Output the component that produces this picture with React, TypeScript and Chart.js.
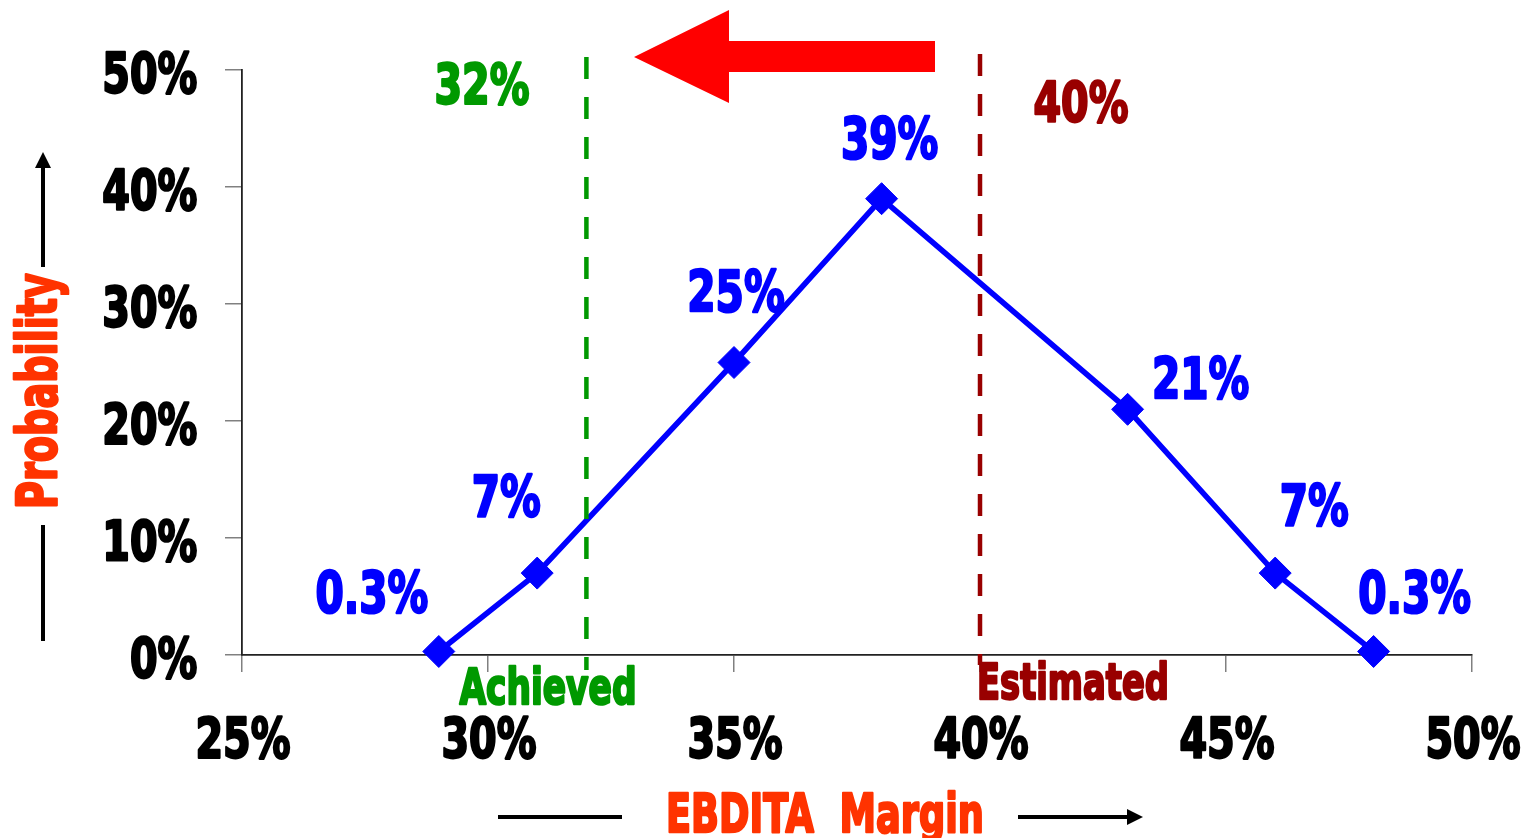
import React, { useEffect, useRef } from "react";
import { Chart, registerables } from "chart.js";

Chart.register(...registerables);

// EBDITA margin (%) and probability (%) for each scenario
const margins = [29, 31, 35, 38, 43, 46, 48];
const probabilities = [0.3, 7, 25, 39, 21, 7, 0.3];
const probabilityLabels = ["0.3%", "7%", "25%", "39%", "21%", "7%", "0.3%"];

// Reference margins shown as dashed verticals
const achievedMargin = 32;
const estimatedMargin = 40;

// Axis ranges and tick steps
const xRange = [25, 50];
const xStep = 5;
const yRange = [0, 50];
const yStep = 10;

// Where each value label sits relative to its marker (px)
const labelOffsets = [
  [-67, -59],
  [-31, -77],
  [2, -71],
  [8, -60],
  [73, -31],
  [39, -68],
  [41, -59],
];

const FAMILY = '"DejaVu Sans", "Liberation Sans", sans-serif';
const BLUE = "#0000FF";
const GREEN = "#009900";
const DARK_RED = "#990000";
const TITLE = "#FF3300";

type TextOpts = {
  width?: number;
  scaleX?: number;
  align?: CanvasTextAlign;
  rotate?: number;
};

function fontForCap(ctx: CanvasRenderingContext2D, capH: number) {
  ctx.font = `bold 100px ${FAMILY}`;
  const cap = ctx.measureText("H").actualBoundingBoxAscent || 72.9;
  const size = (100 * capH) / cap;
  ctx.font = `bold ${size}px ${FAMILY}`;
}

// Draws heavy condensed text whose cap box is centred vertically on cy
function capText(
  ctx: CanvasRenderingContext2D,
  text: string,
  x: number,
  cy: number,
  capH: number,
  color: string,
  opts: TextOpts = {}
) {
  ctx.save();
  fontForCap(ctx, capH - 2);
  const w = ctx.measureText(text).width;
  const sx = opts.width ? (opts.width - 2) / w : opts.scaleX ?? 1;
  ctx.translate(x, cy);
  if (opts.rotate) ctx.rotate(opts.rotate);
  ctx.scale(sx, 1);
  ctx.textAlign = opts.align ?? "center";
  ctx.textBaseline = "alphabetic";
  ctx.fillStyle = color;
  ctx.strokeStyle = color;
  ctx.lineWidth = 2.6;
  ctx.lineJoin = "round";
  const dx = opts.align === "right" ? -1 : 0;
  ctx.fillText(text, dx, capH / 2 - 1);
  ctx.strokeText(text, dx, capH / 2 - 1);
  ctx.restore();
}

function condensedScale(ctx: CanvasRenderingContext2D, capH: number) {
  ctx.save();
  fontForCap(ctx, capH - 2);
  const w = ctx.measureText("50%").width;
  ctx.restore();
  return 95 / w;
}

const overlayPlugin = {
  id: "marginOverlay",
  afterDraw(chart: any) {
    const ctx: CanvasRenderingContext2D = chart.ctx;
    const xs = chart.scales.x;
    const ys = chart.scales.y;
    const area = chart.chartArea;
    const cap = 42;
    const sx = condensedScale(ctx, cap);

    // Tick labels
    ys.ticks.forEach((t: any) => {
      const py = ys.getPixelForValue(t.value);
      capText(ctx, `${t.value}%`, 198, py + 2, cap, "#000", { scaleX: sx, align: "right" });
    });
    xs.ticks.forEach((t: any) => {
      const px = xs.getPixelForValue(t.value);
      capText(ctx, `${t.value}%`, px + 1, 737, cap, "#000", { scaleX: sx });
    });

    // Dashed reference lines
    const dashed = (v: number, color: string, top: number, bottom: number) => {
      const px = xs.getPixelForValue(v);
      ctx.save();
      ctx.strokeStyle = color;
      ctx.lineWidth = 4.5;
      ctx.setLineDash([22, 18]);
      ctx.beginPath();
      ctx.moveTo(px, top);
      ctx.lineTo(px, bottom);
      ctx.stroke();
      ctx.restore();
      return px;
    };
    dashed(achievedMargin, GREEN, area.top - 13, area.bottom + 15);
    dashed(estimatedMargin, DARK_RED, area.top - 16, area.bottom + 10);

    capText(ctx, `${achievedMargin}%`, 482, 83, cap, GREEN, { scaleX: sx });
    capText(ctx, `${estimatedMargin}%`, 1081, 101, cap, DARK_RED, { scaleX: sx });
    capText(ctx, "Achieved", 548, 686, 38, GREEN, { width: 179 });
    capText(ctx, "Estimated", 1073, 681, 38, DARK_RED, { width: 194 });

    // Value labels
    probabilities.forEach((p, i) => {
      const px = xs.getPixelForValue(margins[i]);
      const py = ys.getPixelForValue(p);
      const [dx, dy] = labelOffsets[i];
      capText(ctx, probabilityLabels[i], px + dx, py + dy, 43, BLUE, { scaleX: sx });
    });

    // Big red arrow pointing left
    ctx.save();
    ctx.fillStyle = "#FF0000";
    ctx.beginPath();
    ctx.moveTo(634, 57);
    ctx.lineTo(729, 10);
    ctx.lineTo(729, 41);
    ctx.lineTo(935, 41);
    ctx.lineTo(935, 72);
    ctx.lineTo(729, 72);
    ctx.lineTo(729, 103);
    ctx.closePath();
    ctx.fill();
    ctx.restore();

    // Axis titles with guide arrows
    ctx.save();
    ctx.strokeStyle = "#000";
    ctx.fillStyle = "#000";
    ctx.lineWidth = 4;
    ctx.beginPath();
    ctx.moveTo(43, 641);
    ctx.lineTo(43, 525);
    ctx.moveTo(43, 267);
    ctx.lineTo(43, 166);
    ctx.moveTo(498, 817);
    ctx.lineTo(622, 817);
    ctx.moveTo(1018, 817);
    ctx.lineTo(1130, 817);
    ctx.stroke();
    ctx.beginPath();
    ctx.moveTo(43, 152);
    ctx.lineTo(35, 168);
    ctx.lineTo(51, 168);
    ctx.closePath();
    ctx.fill();
    ctx.beginPath();
    ctx.moveTo(1143, 817);
    ctx.lineTo(1127, 809);
    ctx.lineTo(1127, 825);
    ctx.closePath();
    ctx.fill();
    ctx.restore();

    capText(ctx, "EBDITA  Margin", 825, 812, 41, TITLE, { width: 320 });
    capText(ctx, "Probability", 36, 391, 42, TITLE, { width: 238, rotate: -Math.PI / 2 });
  },
};

export default function App() {
  const canvasRef = useRef<HTMLCanvasElement | null>(null);

  useEffect(() => {
    const canvas = canvasRef.current;
    if (!canvas) return;
    const chart = new Chart(canvas, {
      type: "line",
      data: {
        datasets: [
          {
            data: margins.map((m, i) => ({ x: m, y: probabilities[i] })),
            borderColor: BLUE,
            backgroundColor: BLUE,
            borderWidth: 5.5,
            pointStyle: "rectRot",
            pointRadius: 16,
            pointBorderWidth: 1,
            pointBackgroundColor: BLUE,
            pointBorderColor: BLUE,
            tension: 0,
            clip: false as any,
          },
        ],
      },
      options: {
        responsive: false,
        animation: false,
        layout: { padding: { left: 0, top: 70, right: 56, bottom: 0 } },
        plugins: { legend: { display: false }, tooltip: { enabled: false } },
        scales: {
          x: {
            type: "linear",
            min: xRange[0],
            max: xRange[1],
            ticks: { stepSize: xStep, display: false },
            grid: { drawOnChartArea: false, drawTicks: true, tickLength: 17, color: "#808080", lineWidth: 1.5 },
            border: { color: "#222222", width: 1.8 },
            afterFit: (s: any) => {
              s.height = 183;
            },
          },
          y: {
            type: "linear",
            min: yRange[0],
            max: yRange[1],
            ticks: { stepSize: yStep, display: false },
            grid: { drawOnChartArea: false, drawTicks: true, tickLength: 17, color: "#808080", lineWidth: 1.5 },
            border: { color: "#222222", width: 1.8 },
            afterFit: (s: any) => {
              s.width = 242;
            },
          },
        },
      },
      plugins: [overlayPlugin],
    });
    return () => chart.destroy();
  }, []);

  return (
    <div style={{ position: "fixed", left: 0, top: 0, width: 1528, height: 838, background: "#fff" }}>
      <canvas ref={canvasRef} width={1528} height={838} style={{ display: "block" }} />
    </div>
  );
}
